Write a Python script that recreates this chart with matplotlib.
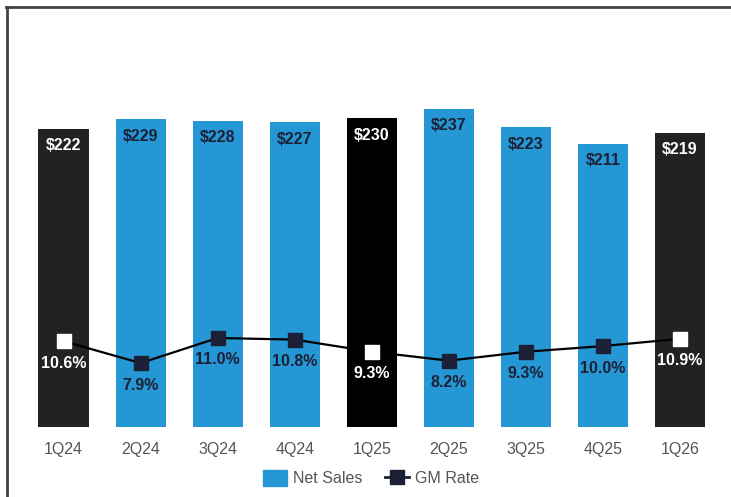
import matplotlib.pyplot as plt
from matplotlib.lines import Line2D
from matplotlib.patches import Patch

plt.rcParams['font.family'] = ['Liberation Sans', 'DejaVu Sans']

quarters = ['1Q24', '2Q24', '3Q24', '4Q24', '1Q25', '2Q25', '3Q25', '4Q25', '1Q26']
net_sales = [222, 229, 228, 227, 230, 237, 223, 211, 219]
gm_rate = [10.6, 7.9, 11.0, 10.8, 9.3, 8.2, 9.3, 10.0, 10.9]

blue = '#2597d4'
navy = '#1c2036'
bar_colors = ['#222222', blue, blue, blue, '#000000', blue, blue, blue, '#222222']
dark = [c != blue for c in bar_colors]

fig = plt.figure(figsize=(7.31, 4.97), dpi=100)
ax = fig.add_axes([25 / 731, 70 / 497, 693.5 / 731, 407 / 497])
x = range(len(quarters))
ax.bar(x, net_sales, width=0.65, color=bar_colors)
ax.set_xlim(-0.5, len(quarters) - 0.5)
ax.set_ylim(0, 303)
for i, v in enumerate(net_sales):
    ax.annotate(f'${v}', (i, v), xytext=(0, -17), textcoords='offset pixels',
                ha='center', va='center', fontsize=11.5, fontweight='bold',
                color='white' if dark[i] else navy)

ax.set_xticks(list(x))
ax.set_xticklabels(quarters, fontsize=11.5, color='#555555')
ax.tick_params(axis='x', length=0, pad=11)
ax.set_yticks([])
for s in ax.spines.values():
    s.set_visible(False)

ax2 = ax.twinx()
ax2.set_ylim(0, 50.3)
ax2.plot(x, gm_rate, color='black', lw=1.6, zorder=2)
for i, v in enumerate(gm_rate):
    c = 'white' if dark[i] else navy
    ax2.plot(i, v, marker='s', ms=9.5, color=c, mec=c, zorder=3)
    ax2.annotate(f'{v:.1f}%', (i, v), xytext=(0, -22), textcoords='offset pixels',
                 ha='center', va='center', fontsize=11.5, fontweight='bold', color=c)
ax2.set_yticks([])
for s in ax2.spines.values():
    s.set_visible(False)

handles = [Patch(color=blue, label='Net Sales'),
           Line2D([0], [0], color=navy, lw=2, marker='s', ms=10, label='GM Rate')]
fig.legend(handles=handles, loc='center', bbox_to_anchor=(371 / 731, 1 - 478 / 497),
           ncol=2, frameon=False, fontsize=11.5, labelcolor='#555555',
           handlelength=1.5, handleheight=1.2, columnspacing=1.4, handletextpad=0.4)

# frame lines at top and left
fig.add_artist(Line2D([6 / 731, 1], [1 - 7 / 497, 1 - 7 / 497], color='#444444', lw=2))
fig.add_artist(Line2D([7 / 731, 7 / 731], [0, 1 - 7 / 497], color='#444444', lw=2))

fig.savefig('out.png', dpi=100)
